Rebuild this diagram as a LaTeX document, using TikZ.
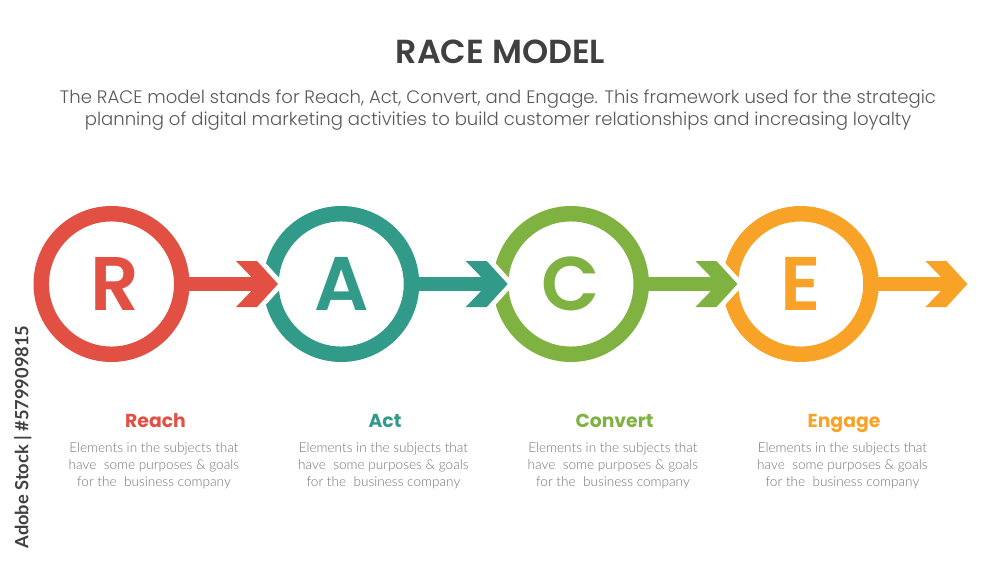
\documentclass[tikz,border=0pt]{standalone}
\usepackage{fontspec}
\setmainfont{Poppins}
\newfontfamily\lightfont{Poppins}[UprightFont=* Light]
\newfontfamily\semifont{Poppins}[UprightFont=* SemiBold]
\newfontfamily\latofont{Lato}[UprightFont=* Light, BoldFont=Lato Bold]
\usetikzlibrary{positioning}
\definecolor{racered}{HTML}{E24F43}
\definecolor{raceteal}{HTML}{329A89}
\definecolor{racegreen}{HTML}{7FB241}
\definecolor{raceorange}{HTML}{F8A328}
\tikzset{
	ring/.style={draw=#1, text=#1, circle, line width=11.6pt, minimum size=105.4pt, inner sep=0pt, outer sep=0pt, font=\semifont\fontsize{57}{57}\selectfont},
	shaft/.style={draw=#1, line width=11pt},
	headtip/.pic={\path[pic actions, preaction={draw=white, line width=7.5pt, miter limit=10}] (21,0) -- (0,-23) -- (-21,-23) -- (-6,-7.5) -- (-6,7.5) -- (-21,23) -- (0,23) -- cycle;},
	steptitle/.style={font=\fontsize{14.1}{16}\selectfont\bfseries, inner sep=0pt, anchor=base, text depth=0pt},
	stepdesc/.style={font=\latofont\fontsize{10.2}{12.8}\selectfont, text=black!55, align=center, inner sep=0pt, below=11pt of #1, xshift=-1.2pt}
}
\begin{document}
\begin{tikzpicture}[x=0.75pt, y=-0.75pt, node distance=66.9pt]
	\useasboundingbox (0,0) rectangle (1000,563);

	\node[font=\semifont\fontsize{25}{30}\selectfont, text=black!75, inner sep=0pt](Title) at (500.5,52){RACE MODEL};
	\node[font=\lightfont\fontsize{13.55}{16.5}\selectfont, text=black!65, align=center, inner sep=0pt](Intro) at (498,110.5){The RACE model stands for Reach, Act, Convert, and Engage. This framework used for the strategic\\planning of digital marketing activities to build customer relationships and increasing loyalty};

	\node[ring=racered](R) at (111.5,284){\hspace{5pt}R};
	\node[ring=raceteal, right=of R](A){A};
	\node[ring=racegreen, right=of A](C){C};
	\node[ring=raceorange, right=of C](E){E};

	\coordinate[left=10.5pt of A](RHead);
	\coordinate[left=10.5pt of C](AHead);
	\coordinate[left=10.5pt of E](CHead);
	\coordinate[right=56.6pt of E](EHead);

	\pic[fill=racered] at (RHead) {headtip};
	\pic[fill=raceteal] at (AHead) {headtip};
	\pic[fill=racegreen] at (CHead) {headtip};
	\pic[fill=raceorange] at (EHead) {headtip};

	\draw[shaft=racered] (R.east) -- (RHead);
	\draw[shaft=raceteal] (A.east) -- (AHead);
	\draw[shaft=racegreen] (C.east) -- (CHead);
	\draw[shaft=raceorange] (E.east) -- (EHead);

	\node[steptitle, text=racered](Reach) at (155.5,427){Reach};
	\node[steptitle, text=raceteal](Act) at (385,427){Act};
	\node[steptitle, text=racegreen](Convert) at (614.5,427){Convert};
	\node[steptitle, text=raceorange](Engage) at (844,427){Engage};

	\node[stepdesc=Reach](ReachText){Elements in the subjects that\\have\ \ some purposes \& goals\\for the\ \ business company};
	\node[stepdesc=Act](ActText){Elements in the subjects that\\have\ \ some purposes \& goals\\for the\ \ business company};
	\node[stepdesc=Convert](ConvertText){Elements in the subjects that\\have\ \ some purposes \& goals\\for the\ \ business company};
	\node[stepdesc=Engage](EngageText){Elements in the subjects that\\have\ \ some purposes \& goals\\for the\ \ business company};

	\node[rotate=90, font=\latofont\fontsize{13.7}{16}\selectfont\bfseries, text=black!75, inner sep=0pt](Stock) at (23,437){Adobe Stock | \#579909815};
\end{tikzpicture}
\end{document}
